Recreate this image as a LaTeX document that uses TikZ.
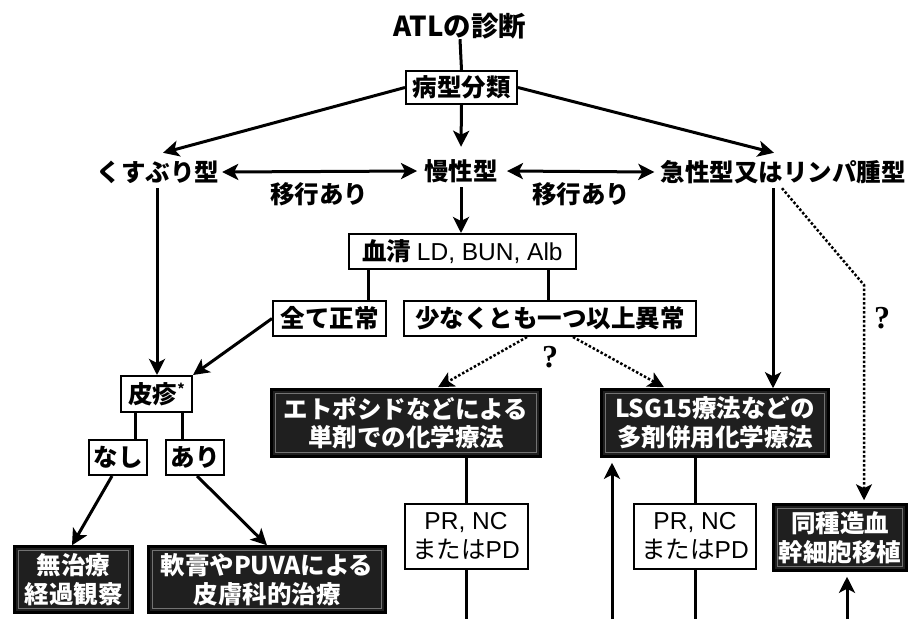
\documentclass[tikz,border=0pt]{standalone}
\usepackage{fontspec}
\setmainfont{Noto Sans CJK JP}
\newfontfamily\qfont{Liberation Serif}
\newfontfamily\lat{Liberation Sans}
\usetikzlibrary{arrows.meta,calc}
\begin{document}
\begin{tikzpicture}[x=1pt,y=-1pt,
  every node/.style={inner sep=0pt, font=\fontsize{24.5}{28.5}\selectfont\bfseries},
  lbl/.style={minimum height=32pt},
  wbox/.style={draw, line width=2pt, fill=white, align=center},
  prbox/.style={wbox, font=\fontsize{24.5}{29}\selectfont},
  bbox/.style={draw=black, fill=black!88, line width=2.5pt, text=white, align=center,
    path picture={\draw[black!55, line width=1pt]
      ([shift={(4pt,-4pt)}]path picture bounding box.north west) rectangle
      ([shift={(-4pt,4pt)}]path picture bounding box.south east);}},
  arrtip/.style={-{Stealth[length=16pt,width=16pt,inset=4pt]}},
  dbltip/.style={{Stealth[length=16pt,width=16pt,inset=4pt]}-{Stealth[length=16pt,width=16pt,inset=4pt]}},
  ln/.style={line width=3pt},
  arr/.style={ln, arrtip},
  dbl/.style={ln, dbltip},
  dotarr/.style={line width=2.5pt, dash pattern=on 2.5pt off 2pt, arrtip},
  qm/.style={font=\fontsize{32}{34}\selectfont\qfont\bfseries},
]
\useasboundingbox (0,0) rectangle (924,619);

% top
\node (title) at (460,26) {\fontsize{27.5}{30}\selectfont ATLの診断};
\node[wbox, minimum width=111pt, minimum height=33pt] (bunrui) at (461.5,87.5) {病型分類};

% row 2
\node[lbl] (kusu) at (158,172) {くすぶり型};
\node[lbl] (man) at (461,171) {慢性型};
\node[lbl] (kyu) at (783,172) {急性型又はリンパ腫型};
\node (iko1) at (319,194) {移行あり};
\node (iko2) at (581,194) {移行あり};

% chronic branch
\node[wbox, minimum width=227pt, minimum height=35pt] (ketsu) at (462.5,251.5) {血清 {\lat\mdseries LD, BUN, Alb}};
\node[wbox, minimum width=113pt, minimum height=35pt] (zen) at (329.5,318.5) {全て正常};
\node[wbox, minimum width=292pt, minimum height=35pt] (suk) at (550,318.5) {少なくとも一つ以上異常};

% skin branch
\node[wbox, minimum width=71pt, minimum height=36pt] (hishin) at (156.5,394) {皮疹\raisebox{0.35em}{\fontsize{14}{14}\selectfont *}};
\node[wbox, minimum width=58pt, minimum height=35pt] (nashi) at (118,457.5) {なし};
\node[wbox, minimum width=58pt, minimum height=35pt] (ari) at (195,457.5) {あり};
\node[bbox, minimum width=118pt, minimum height=66pt] (mu) at (73.5,579.5) {無治療\\経過観察};
\node[bbox, minimum width=237pt, minimum height=66pt] (nan) at (267,579.5) {軟膏やPUVAによる\\皮膚科的治療};

% chemo
\node[bbox, minimum width=269pt, minimum height=67pt] (etop) at (406,423) {エトポシドなどによる\\単剤での化学療法};
\node[bbox, minimum width=227pt, minimum height=67pt] (lsg) at (715,423) {LSG15療法などの\\多剤併用化学療法};
\node[prbox, minimum width=123pt, minimum height=65pt] (pr1) at (466,536.5) {{\lat PR, NC}\\または{\lat PD}};
\node[prbox, minimum width=122pt, minimum height=65pt] (pr2) at (695,536.5) {{\lat PR, NC}\\または{\lat PD}};
\node[bbox, minimum width=133pt, minimum height=66pt] (dou) at (840,537.5) {同種造血\\幹細胞移植};

\node[qm] (q1) at (550,357) {?};
\node[qm] (q2) at (882,318) {?};

\coordinate (b1) at (466,619);
\coordinate (b2) at (612,619);
\coordinate (b3) at (695,619);
\coordinate (b4) at (847,619);
\coordinate (bend) at (864,285);

% connectors
\draw[ln] (title.south) -- (bunrui.north);
\draw[arr] (bunrui.west) -- ([xshift=5pt,yshift=3pt]kusu.north);
\draw[arr] (bunrui.south) -- ([yshift=8pt]man.north);
\draw[arr] (bunrui.east) -- ([xshift=-9pt,yshift=3pt]kyu.north);
\draw[dbl] ([xshift=3pt]kusu.east) -- ([xshift=-7pt]man.west);
\draw[dbl] ([xshift=9pt]man.east) -- ([xshift=-6pt]kyu.west);

\draw[arr] ([xshift=-1pt]kusu.south) -- ([xshift=-1pt]kusu.south |- hishin.north);
\draw[arr] (man.south) -- (man.south |- ketsu.north);
\draw[ln] ([xshift=-94.5pt]ketsu.south) coordinate (k1) -- (k1 |- zen.north);
\draw[ln] ([xshift=85.5pt]ketsu.south) coordinate (k2) -- (k2 |- suk.north);
\draw[arr] (zen.west) -- (hishin.north east);

\draw[dotarr] ([xshift=-23pt]suk.south) -- ([xshift=32pt,yshift=1pt]etop.north);
\draw[dotarr] ([xshift=23pt]suk.south) -- ([xshift=-51pt,yshift=1pt]lsg.north);
\draw[arr] ([xshift=-10pt]kyu.south) coordinate (k3) -- (k3 |- lsg.north);
\draw[dotarr] ([xshift=-1pt]kyu.south) -- (bend) -- ([xshift=24pt,yshift=3pt]dou.north);

\draw[ln] ([xshift=-21.5pt]hishin.south) coordinate (h1) -- (h1 |- nashi.north);
\draw[ln] ([xshift=25.5pt]hishin.south) coordinate (h2) -- (h2 |- ari.north);
\draw[arr] ([xshift=-6pt]nashi.south) -- ([xshift=-1.5pt]mu.north);
\draw[arr] ([xshift=2pt]ari.south) -- (nan.north);

\draw[ln] (pr1.north |- etop.south) -- (pr1.north);
\draw[ln] (pr1.south) -- (b1);
\draw[ln] (pr2.north |- lsg.south) -- (pr2.north);
\draw[ln] (pr2.south) -- (b3);
\draw[arr, shorten >=5pt] (b2) -- (b2 |- lsg.south);
\draw[arr, shorten >=5pt] (b4) -- (b4 |- dou.south);
\end{tikzpicture}
\end{document}
